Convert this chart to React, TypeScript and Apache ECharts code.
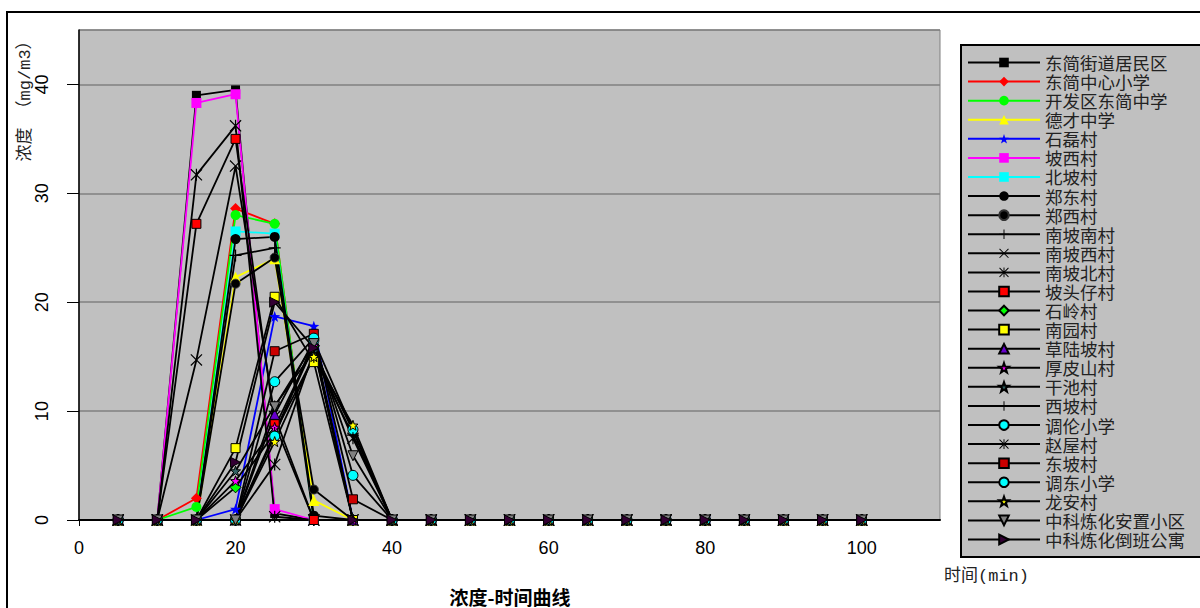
import React, { useEffect, useRef } from "react";
import * as echarts from "echarts";

// time axis (min)
const times = [5, 10, 15, 20, 25, 30, 35, 40, 45, 50, 55, 60, 65, 70, 75, 80, 85, 90, 95, 100];

// concentrations (mg/m3), one value per time point
const dongjianJiedao = [0, 0, 39.0, 39.5, 0.6, 0, 0, 0, 0, 0, 0, 0, 0, 0, 0, 0, 0, 0, 0, 0];
const dongjianZhongxin = [0, 0, 2.0, 28.6, 27.2, 0, 0, 0, 0, 0, 0, 0, 0, 0, 0, 0, 0, 0, 0, 0];
const kaifaqu = [0, 0, 1.2, 28.0, 27.2, 0, 0, 0, 0, 0, 0, 0, 0, 0, 0, 0, 0, 0, 0, 0];
const decai = [0, 0, 0, 22.3, 24.0, 1.8, 0, 0, 0, 0, 0, 0, 0, 0, 0, 0, 0, 0, 0, 0];
const shilei = [0, 0, 0, 1.0, 18.7, 17.8, 0, 0, 0, 0, 0, 0, 0, 0, 0, 0, 0, 0, 0, 0];
const poxi = [0, 0, 38.3, 39.1, 1.0, 0, 0, 0, 0, 0, 0, 0, 0, 0, 0, 0, 0, 0, 0, 0];
const beipo = [0, 0, 0, 26.5, 26.3, 0, 0, 0, 0, 0, 0, 0, 0, 0, 0, 0, 0, 0, 0, 0];
const zhengdong = [0, 0, 0, 25.8, 26.0, 0.4, 0, 0, 0, 0, 0, 0, 0, 0, 0, 0, 0, 0, 0, 0];
const zhengxi = [0, 0, 0, 21.7, 24.1, 2.8, 0, 0, 0, 0, 0, 0, 0, 0, 0, 0, 0, 0, 0, 0];
const nanponan = [0, 0, 0, 24.3, 25.0, 0, 0, 0, 0, 0, 0, 0, 0, 0, 0, 0, 0, 0, 0, 0];
const nanpoxi = [0, 0, 14.7, 32.5, 9.5, 0, 0, 0, 0, 0, 0, 0, 0, 0, 0, 0, 0, 0, 0, 0];
const nanpobei = [0, 0, 31.7, 36.2, 0.3, 0, 0, 0, 0, 0, 0, 0, 0, 0, 0, 0, 0, 0, 0, 0];
const potouzai = [0, 0, 27.2, 35.0, 8.8, 0, 0, 0, 0, 0, 0, 0, 0, 0, 0, 0, 0, 0, 0, 0];
const shiling = [0, 0, 0, 3.0, 8.0, 16.0, 0, 0, 0, 0, 0, 0, 0, 0, 0, 0, 0, 0, 0, 0];
const nanyuan = [0, 0, 0, 6.6, 20.5, 14.5, 0, 0, 0, 0, 0, 0, 0, 0, 0, 0, 0, 0, 0, 0];
const caolupo = [0, 0, 0, 0, 9.7, 16.5, 0, 0, 0, 0, 0, 0, 0, 0, 0, 0, 0, 0, 0, 0];
const houpishan = [0, 0, 0, 3.6, 8.5, 16.0, 0, 0, 0, 0, 0, 0, 0, 0, 0, 0, 0, 0, 0, 0];
const ganchi = [0, 0, 0, 4.5, 10.5, 15.5, 8.2, 0, 0, 0, 0, 0, 0, 0, 0, 0, 0, 0, 0, 0];
const xipo = [0, 0, 0, 0, 8.0, 15.0, 7.8, 0, 0, 0, 0, 0, 0, 0, 0, 0, 0, 0, 0, 0];
const diaolun = [0, 0, 0, 0, 7.7, 16.5, 8.3, 0, 0, 0, 0, 0, 0, 0, 0, 0, 0, 0, 0, 0];
const zhaowu = [0, 0, 0, 0, 5.1, 15.5, 7.5, 0, 0, 0, 0, 0, 0, 0, 0, 0, 0, 0, 0, 0];
const dongpo = [0, 0, 0, 0, 15.5, 17.1, 1.9, 0, 0, 0, 0, 0, 0, 0, 0, 0, 0, 0, 0, 0];
const diaodong = [0, 0, 0, 0, 12.7, 16.7, 4.1, 0, 0, 0, 0, 0, 0, 0, 0, 0, 0, 0, 0, 0];
const longan = [0, 0, 0, 0, 7.2, 15.0, 8.7, 0, 0, 0, 0, 0, 0, 0, 0, 0, 0, 0, 0, 0];
const anzhi = [0, 0, 0, 0, 10.4, 16.2, 5.9, 0, 0, 0, 0, 0, 0, 0, 0, 0, 0, 0, 0, 0];
const daoban = [0, 0, 0, 5.3, 20.0, 15.8, 0, 0, 0, 0, 0, 0, 0, 0, 0, 0, 0, 0, 0, 0];

const xTickLabels = ["0", "20", "40", "60", "80", "100"];

const STAR = "path://M10,0 L12.4,7 L19.5,7.2 L13.8,11.6 L15.9,18.6 L10,14.5 L4.1,18.6 L6.2,11.6 L0.5,7.2 L7.6,7 Z";
const PLUS = "path://M9,0 H11 V9 H20 V11 H11 V20 H9 V11 H0 V9 H9 Z";
const CROSS = "path://M0,1.4 L1.4,0 L10,8.6 L18.6,0 L20,1.4 L11.4,10 L20,18.6 L18.6,20 L10,11.4 L1.4,20 L0,18.6 L8.6,10 Z";
const ASTER = "path://M0,1.4 L1.4,0 L10,8.6 L18.6,0 L20,1.4 L11.4,10 L20,18.6 L18.6,20 L10,11.4 L1.4,20 L0,18.6 L8.6,10 Z M9,0 H11 V20 H9 Z";
const TRI_DOWN = "path://M0,0 L20,0 L10,20 Z";
const TRI_RIGHT = "path://M0,0 L20,10 L0,20 Z";

type Def = {
  name: string;
  values: number[];
  line: string;
  fill: string;
  symbol: string;
  size: number;
  border?: string;
};

const defs: Def[] = [
  { name: "东简街道居民区", values: dongjianJiedao, line: "#000000", fill: "#000000", symbol: "rect", size: 9 },
  { name: "东简中心小学", values: dongjianZhongxin, line: "#ff0000", fill: "#ff0000", symbol: "diamond", size: 11 },
  { name: "开发区东简中学", values: kaifaqu, line: "#00ff00", fill: "#00ff00", symbol: "circle", size: 10 },
  { name: "德才中学", values: decai, line: "#ffff00", fill: "#ffff00", symbol: "triangle", size: 11 },
  { name: "石磊村", values: shilei, line: "#0000ff", fill: "#0000ff", symbol: STAR, size: 11 },
  { name: "坡西村", values: poxi, line: "#ff00ff", fill: "#ff00ff", symbol: "rect", size: 10 },
  { name: "北坡村", values: beipo, line: "#00ffff", fill: "#00ffff", symbol: "rect", size: 10 },
  { name: "郑东村", values: zhengdong, line: "#000000", fill: "#000000", symbol: "circle", size: 10 },
  { name: "郑西村", values: zhengxi, line: "#000000", fill: "#000000", symbol: "circle", size: 9, border: "#333333" },
  { name: "南坡南村", values: nanponan, line: "#000000", fill: "#000000", symbol: PLUS, size: 12 },
  { name: "南坡西村", values: nanpoxi, line: "#000000", fill: "#000000", symbol: CROSS, size: 12 },
  { name: "南坡北村", values: nanpobei, line: "#000000", fill: "#000000", symbol: ASTER, size: 12 },
  { name: "坡头仔村", values: potouzai, line: "#000000", fill: "#ff0000", symbol: "rect", size: 9, border: "#000000" },
  { name: "石岭村", values: shiling, line: "#000000", fill: "#00ff00", symbol: "diamond", size: 11, border: "#000000" },
  { name: "南园村", values: nanyuan, line: "#000000", fill: "#ffff00", symbol: "rect", size: 9, border: "#000000" },
  { name: "草陆坡村", values: caolupo, line: "#000000", fill: "#6600cc", symbol: "triangle", size: 10, border: "#000000" },
  { name: "厚皮山村", values: houpishan, line: "#000000", fill: "#ff00ff", symbol: STAR, size: 10, border: "#000000" },
  { name: "干池村", values: ganchi, line: "#000000", fill: "#336666", symbol: STAR, size: 10, border: "#000000" },
  { name: "西坡村", values: xipo, line: "#000000", fill: "#000000", symbol: PLUS, size: 12 },
  { name: "调伦小学", values: diaolun, line: "#000000", fill: "#00ffff", symbol: "circle", size: 10, border: "#000000" },
  { name: "赵屋村", values: zhaowu, line: "#000000", fill: "#000000", symbol: ASTER, size: 12 },
  { name: "东坡村", values: dongpo, line: "#000000", fill: "#cc0000", symbol: "rect", size: 9, border: "#000000" },
  { name: "调东小学", values: diaodong, line: "#000000", fill: "#00ffff", symbol: "circle", size: 10, border: "#000000" },
  { name: "龙安村", values: longan, line: "#000000", fill: "#ffff00", symbol: STAR, size: 10, border: "#000000" },
  { name: "中科炼化安置小区", values: anzhi, line: "#000000", fill: "#808080", symbol: TRI_DOWN, size: 10, border: "#000000" },
  { name: "中科炼化倒班公寓", values: daoban, line: "#000000", fill: "#330033", symbol: TRI_RIGHT, size: 10, border: "#000000" },
];

const CJK = "'Noto Sans CJK SC', 'Noto Sans', sans-serif";
const MIX = "'Liberation Mono', 'Noto Sans CJK SC', monospace";
const NUM = "'Liberation Sans', Arial, sans-serif";

export default function App() {
  const ref = useRef<HTMLDivElement>(null);

  useEffect(() => {
    document.body.style.margin = "0";
    if (!ref.current) return;
    const chart = echarts.init(ref.current, null, { renderer: "svg" });

    const series = defs.map((d) => ({
      name: d.name,
      type: "line",
      data: times.map((t, i) => [t, d.values[i]]),
      symbol: d.symbol,
      symbolSize: d.size,
      showAllSymbol: true,
      lineStyle: { color: d.line, width: 1.8 },
      itemStyle: {
        color: d.fill,
        borderColor: d.border || d.fill,
        borderWidth: d.border ? 1 : 0,
      },
      emphasis: { disabled: true },
    }));

    chart.setOption({
      animation: false,
      backgroundColor: "#ffffff",
      grid: {
        left: 79,
        right: 260,
        top: 30,
        bottom: 88,
        show: true,
        backgroundColor: "#c0c0c0",
        borderColor: "#808080",
        borderWidth: 1,
      },
      xAxis: {
        type: "value",
        min: 0,
        max: 110,
        interval: 20,
        axisLine: { show: true, lineStyle: { color: "#000", width: 2 } },
        axisTick: { show: true, length: 6, lineStyle: { color: "#000", width: 1 } },
        axisLabel: {
          show: true,
          showMaxLabel: false,
          fontSize: 18,
          color: "#000",
          margin: 19,
          fontFamily: NUM,
          formatter: (v: number) => (xTickLabels.includes(String(v)) ? String(v) : ""),
        },
        splitLine: { show: false },
      },
      yAxis: {
        type: "value",
        min: 0,
        max: 45,
        interval: 10,
        axisLine: { show: true, lineStyle: { color: "#000", width: 1.5 } },
        axisTick: { show: true, length: 12, lineStyle: { color: "#000", width: 1 } },
        axisLabel: {
          show: true,
          showMaxLabel: false,
          rotate: 90,
          fontSize: 18,
          color: "#000",
          margin: 28,
          fontFamily: NUM,
        },
        splitLine: { show: true, lineStyle: { color: "#808080", width: 1.6 } },
      },
      legend: {
        orient: "vertical",
        left: 961,
        top: 45,
        padding: [8, 30, 8, 6],
        itemWidth: 72,
        itemHeight: 12,
        itemGap: 0.08,
        backgroundColor: "#c0c0c0",
        borderColor: "#000000",
        borderWidth: 2,
        selectedMode: false,
        textStyle: { fontSize: 17.5, lineHeight: 19, color: "#222", fontFamily: CJK },
        data: defs.map((d) => d.name),
      },
      graphic: [
        {
          type: "rect",
          shape: { x: 7, y: 12, width: 1210, height: 610 },
          style: { fill: "none", stroke: "#000", lineWidth: 2 },
          silent: true,
          z: -10,
        },
        {
          type: "text",
          x: 25,
          y: 97,
          rotation: Math.PI / 2,
          style: {
            text: "浓度 （mg/m3）",
            fontSize: 17,
            fontFamily: MIX,
            fill: "#222",
            align: "center",
            verticalAlign: "middle",
          },
        },
        {
          type: "text",
          x: 944,
          y: 576,
          style: {
            text: "时间(min)",
            fontSize: 17,
            fontFamily: MIX,
            fill: "#222",
            align: "left",
            verticalAlign: "middle",
          },
        },
        {
          type: "text",
          x: 510,
          y: 596,
          style: {
            text: "浓度-时间曲线",
            fontSize: 19,
            fontWeight: "bold",
            fontFamily: CJK,
            fill: "#000",
            align: "center",
            verticalAlign: "middle",
          },
        },
      ],
      series,
    });

    return () => chart.dispose();
  }, []);

  return <div ref={ref} style={{ width: 1200, height: 608, overflow: "hidden" }} />;
}
